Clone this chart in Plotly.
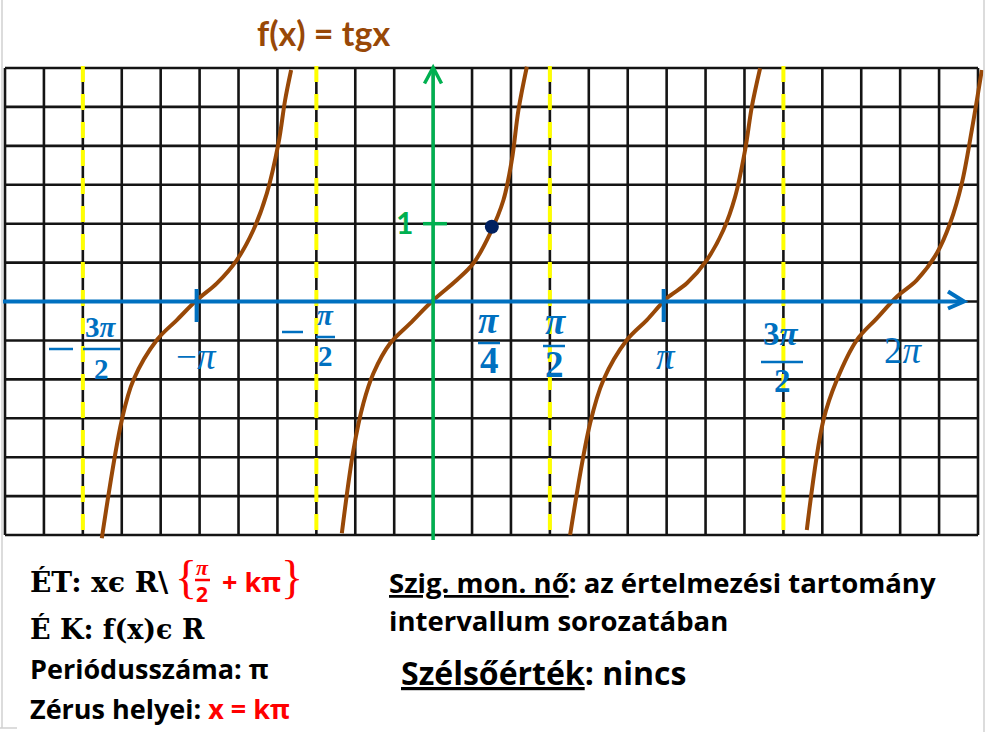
import math
import plotly.graph_objects as go

# ---------------- data ----------------
title_text = "f(x) = tgx"

# four branches of y = tg x  (x in radians, y values)
branch1_x = [-4.457, -4.188, -4.032, -3.717, -3.448, -3.179, -2.910, -2.641, -2.418, -2.237, -2.081, -1.991, -1.910]
branch1_y = [-3.042, -1.522, -1.008, -0.495, -0.238, 0.019, 0.234, 0.533, 0.919, 1.390, 2.032, 2.589, 2.974]

branch2_x = [-1.228, -1.072, -0.938, -0.803, -0.578, -0.309, 0.004, 0.319, 0.542, 0.767, 0.946, 1.059, 1.148, 1.261]
branch2_y = [-2.978, -1.908, -1.308, -0.922, -0.537, -0.280, 0.019, 0.276, 0.491, 0.876, 1.304, 1.818, 2.460, 3.016]

branch3_x = [1.843, 2.112, 2.291, 2.606, 2.875, 3.144, 3.413, 3.682, 3.905, 4.063, 4.197, 4.288, 4.399]
branch3_y = [-3.000, -1.565, -1.008, -0.495, -0.238, 0.041, 0.234, 0.533, 0.919, 1.346, 1.946, 2.503, 2.996]

branch4_x = [5.027, 5.251, 5.431, 5.700, 5.969, 6.238, 6.507, 6.776, 6.955, 7.113, 7.247, 7.382]
branch4_y = [-2.936, -1.522, -1.008, -0.495, -0.216, 0.062, 0.276, 0.619, 1.005, 1.519, 2.203, 2.974]

# marked point (pi/4, 1)
point_x = [0.79]
point_y = [0.96]

# asymptotes x = pi/2 + k*pi
asymptote_x = [-3 * math.pi / 2, -math.pi / 2, math.pi / 2, 3 * math.pi / 2]
# blue ticks on the x axis
xtick_x = [-math.pi, math.pi]
# green tick on the y axis
ytick_y = [1]

# ---------------- layout geometry ----------------
W, H = 987, 732
GX0, GX1 = 5.0, 978.0
GY0, GY1 = 68.0, 535.0
NCOL, NROW = 25, 12
CELL = (GX1 - GX0) / NCOL
OCOL, OROW = 11, 6
OX = GX0 + OCOL * CELL
OY = GY0 + OROW * CELL
XSTEP = math.pi / 6
YSTEP = 0.5


def dx(px):
    return (px - OX) / CELL * XSTEP


def dy(py):
    return (OY - py) / CELL * YSTEP


def fx(px):
    return px / W


def fy(py):
    return 1 - py / H


BROWN = "#984807"
BLUE = "#0070C0"
GREEN = "#00B050"
RED = "#FF0000"
NAVY = "#002060"
YELLOW = "#FFFF00"

SANS = "'Open Sans', Lato, sans-serif"
LATO = "Lato, 'Open Sans', sans-serif"
SERIF = "'Liberation Serif', 'DejaVu Serif', serif"
DSERIF = "'DejaVu Serif', 'Liberation Serif', serif"

fig = go.Figure()
shapes = []

# grid
for k in range(-OCOL, NCOL - OCOL + 1):
    shapes.append(dict(type="line", xref="x", yref="y", x0=k * XSTEP, x1=k * XSTEP,
                       y0=-OROW * YSTEP, y1=(NROW - OROW) * YSTEP,
                       line=dict(color="#141414", width=2.6), layer="below"))
for j in range(-OROW, NROW - OROW + 1):
    shapes.append(dict(type="line", xref="x", yref="y", x0=-OCOL * XSTEP, x1=(NCOL - OCOL) * XSTEP,
                       y0=j * YSTEP, y1=j * YSTEP,
                       line=dict(color="#141414", width=2.6), layer="below"))

# asymptotes (yellow dashed)
for ax_ in asymptote_x:
    shapes.append(dict(type="line", xref="x", yref="y", x0=ax_, x1=ax_,
                       y0=dy(66), y1=dy(542),
                       line=dict(color=YELLOW, width=4, dash="16px,12px"), layer="below"))

# x axis (blue) with arrow
shapes.append(dict(type="line", xref="x", yref="y", x0=dx(3), x1=dx(962), y0=0, y1=0,
                   line=dict(color=BLUE, width=4)))
shapes.append(dict(type="path", xref="x", yref="y",
                   path=f"M {dx(948)} {dy(291.5)} L {dx(964)} {0} L {dx(948)} {dy(308.5)}",
                   line=dict(color=BLUE, width=4)))
for t in xtick_x:
    shapes.append(dict(type="line", xref="x", yref="y", x0=t - 0.04, x1=t - 0.04,
                       y0=dy(289), y1=dy(322), line=dict(color=BLUE, width=4)))

# y axis (green) with arrow
shapes.append(dict(type="line", xref="x", yref="y", x0=0, x1=0, y0=dy(540), y1=dy(69),
                   line=dict(color=GREEN, width=3.5)))
shapes.append(dict(type="path", xref="x", yref="y",
                   path=f"M {dx(424.5)} {dy(83.5)} L {0} {dy(67.5)} L {dx(441.5)} {dy(83.5)}",
                   line=dict(color=GREEN, width=3.5)))
for t in ytick_y:
    shapes.append(dict(type="line", xref="x", yref="y", x0=dx(423), x1=dx(447),
                       y0=t, y1=t, line=dict(color=GREEN, width=3.5)))

# slide edges
for (a, b, c, d) in [(2, 0, 2, 728), (0, 728, 17, 728), (984, 0, 984, 732)]:
    shapes.append(dict(type="line", xref="paper", yref="paper", x0=fx(a), y0=fy(b), x1=fx(c), y1=fy(d),
                       line=dict(color="#d0d0d0", width=1.5)))

# fraction bars and long minus signs of the tick labels
for (a, b, yy, col) in [(83, 120, 349, BLUE), (49, 73, 349, BLUE),
                        (316, 335, 337, BLUE), (282, 303, 332, BLUE),
                        (478, 500, 343, BLUE), (543, 565, 346, BLUE),
                        (761, 803, 362, BLUE), (195, 210, 580, RED)]:
    shapes.append(dict(type="line", xref="paper", yref="paper", x0=fx(a), x1=fx(b), y0=fy(yy), y1=fy(yy),
                       line=dict(color=col, width=2.5)))

# curves
for bx, by in [(branch1_x, branch1_y), (branch2_x, branch2_y), (branch3_x, branch3_y), (branch4_x, branch4_y)]:
    fig.add_trace(go.Scatter(x=bx, y=by, mode="lines",
                             line=dict(color=BROWN, width=4, shape="spline", smoothing=1.0),
                             hoverinfo="skip", showlegend=False))

fig.add_trace(go.Scatter(x=point_x, y=point_y, mode="markers",
                         marker=dict(color=NAVY, size=14, symbol="circle"),
                         hoverinfo="skip", showlegend=False))

annotations = []


def ann(text, px, py, size, color="black", family=SANS, xanchor="center", yanchor="middle"):
    annotations.append(dict(text=text, x=fx(px), y=fy(py), xref="paper", yref="paper",
                            xanchor=xanchor, yanchor=yanchor, showarrow=False,
                            font=dict(size=size, color=color, family=family)))


ann(f"<b>{title_text}</b>", 323, 33, 34, BROWN, LATO)

# x-axis labels
ann("<b>3<i>π</i></b>", 101, 327, 29, BLUE, SERIF)
ann("<b>2</b>", 101, 369, 29, BLUE, SERIF)
ann("−<i>π</i>", 196, 356, 37, BLUE, SERIF)
ann("<b><i>π</i></b>", 325, 315, 29, BLUE, SERIF)
ann("<b>2</b>", 325, 356, 29, BLUE, SERIF)
ann("<b><i>π</i></b>", 488, 320, 37, BLUE, SERIF)
ann("<b>4</b>", 489, 361, 37, BLUE, SERIF)
ann("<b><i>π</i></b>", 555, 321, 37, BLUE, SERIF)
ann("<b>2</b>", 554, 364, 37, BLUE, SERIF)
ann("<i>π</i>", 666, 356, 37, BLUE, SERIF)
ann("<b>3<i>π</i></b>", 781, 334, 33, BLUE, SERIF)
ann("<b>2</b>", 782, 381, 33, BLUE, SERIF)
ann("2<i>π</i>", 903, 350, 37, BLUE, SERIF)

# y-axis label
ann("<b>1</b>", 404, 222, 30, GREEN, LATO)

# bottom-left properties
ann("<b>ÉT: xϵ R\\</b>", 28, 582, 28, "black", DSERIF, xanchor="left")
ann("{", 186, 577, 46, RED, SERIF)
ann("}", 292, 577, 46, RED, SERIF)
ann("<b><i>π</i></b>", 202, 567, 22, RED, SERIF)
ann("<b>2</b>", 202, 594, 21, RED, SANS)
ann("<b>+ kπ</b>", 252, 581, 27, RED, SANS)
ann("<b>É K: f(x)ϵ R</b>", 28, 629, 27, "black", DSERIF, xanchor="left")
ann("<b>Periódusszáma: π</b>", 28, 668, 27, "black", SANS, xanchor="left")
ann("<b>Zérus helyei: <span style='color:#FF0000'>x = kπ</span></b>", 28, 708, 27, "black", SANS,
    xanchor="left")

# bottom-right properties
ann("<b><u>Szig. mon. nő</u>: az értelmezési tartomány</b>", 387, 582, 27.5, "black", SANS, xanchor="left")
ann("<b>intervallum sorozatában</b>", 387, 620, 27.5, "black", SANS, xanchor="left")
ann("<b><u>Szélsőérték</u>: nincs</b>", 399, 672, 32, "black", SANS, xanchor="left")

fig.update_layout(
    width=W, height=H,
    margin=dict(l=0, r=0, t=0, b=0),
    paper_bgcolor="white", plot_bgcolor="white",
    xaxis=dict(range=[dx(0), dx(W)], visible=False, fixedrange=True),
    yaxis=dict(range=[dy(H), dy(0)], visible=False, fixedrange=True),
    shapes=shapes,
    annotations=annotations,
    showlegend=False,
)

fig.write_html("out.html", config={"displayModeBar": False},
               post_script="document.body.style.margin='0';document.body.style.overflow='hidden';")
